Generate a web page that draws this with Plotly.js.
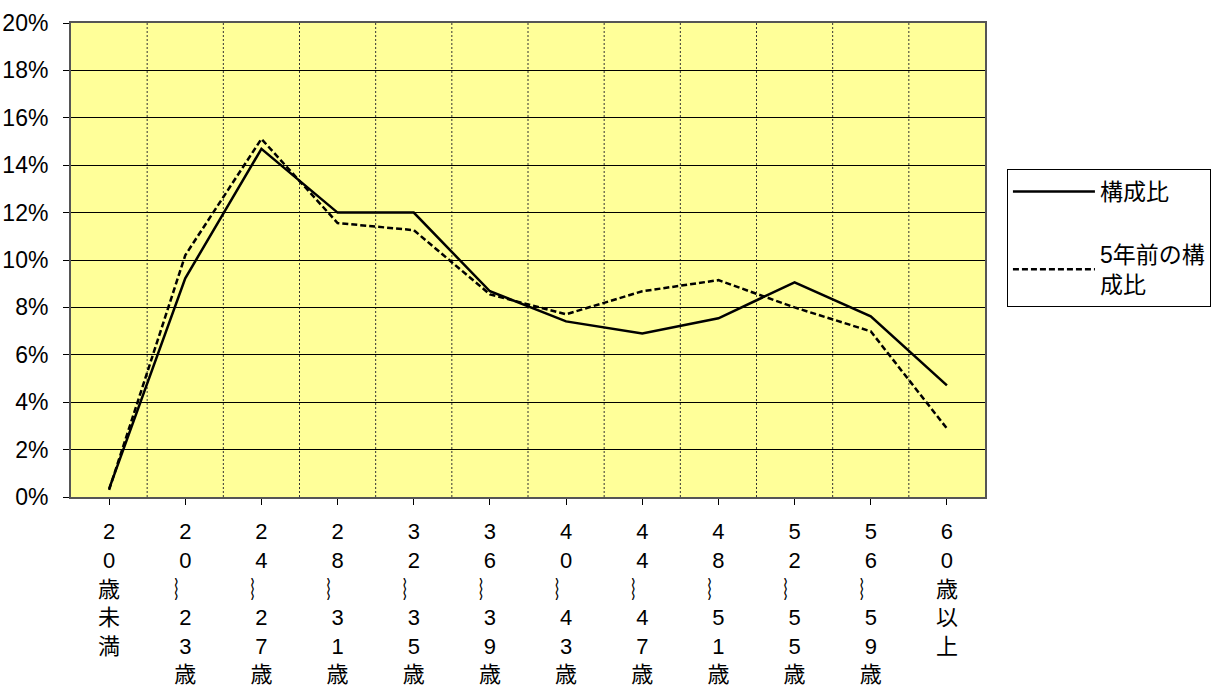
<!DOCTYPE html>
<html>
<head>
<meta charset="utf-8">
<script src="https://cdn.plot.ly/plotly-3.0.1.min.js"></script>
<style>html,body{margin:0;padding:0;background:#fff;}#chart{width:1223px;height:691px;}</style>
</head>
<body>
<div id="chart"></div>
<script>
const categories = ["20歳未満","20～23歳","24～27歳","28～31歳","32～35歳","36～39歳","40～43歳","44～47歳","48～51歳","52～55歳","56～59歳","60歳以上"];
const currentShare = [0.34, 9.23, 14.69, 12.0, 12.0, 8.68, 7.41, 6.9, 7.54, 9.06, 7.62, 4.71];
const shareFiveYearsAgo = [0.30, 10.2, 15.11, 11.56, 11.26, 8.55, 7.71, 8.68, 9.15, 8.0, 6.99, 2.89];
const seriesNames = ["構成比", "5年前の構<br>成比"];
const yTickVals = [0, 2, 4, 6, 8, 10, 12, 14, 16, 18, 20];
const yTickText = ["0%", "2%", "4%", "6%", "8%", "10%", "12%", "14%", "16%", "18%", "20%"];

const WAVE = '︴';
const tickText = categories.map(s => s.split('').map(c => c === '～' ? WAVE : c).join('<br>'));
const FONT = '"Liberation Sans Narrow", "Liberation Sans", "Noto Sans CJK JP", sans-serif';

const traces = [
  {x: categories, y: currentShare, name: seriesNames[0], type: 'scatter', mode: 'lines',
   line: {color: '#000', width: 2.5}, legendgroup: 'a'},
  {x: categories, y: shareFiveYearsAgo, name: seriesNames[1], type: 'scatter', mode: 'lines',
   line: {color: '#000', width: 2.5, dash: '6px,3px'}, legendgroup: 'b'}
];

const shapes = [];
for (let i = 0; i < categories.length - 1; i++) {
  shapes.push({type: 'line', xref: 'x', yref: 'paper', x0: i + 0.5, x1: i + 0.5, y0: 0, y1: 1,
    line: {color: '#333', width: 1, dash: '2px,2px'}, layer: 'below'});
}

const layout = {
  width: 1223, height: 691,
  margin: {l: 71, r: 234, t: 23, b: 194},
  paper_bgcolor: '#fff', plot_bgcolor: '#FFFF99',
  font: {family: FONT, size: 23, color: '#000'},
  xaxis: {
    type: 'category', tickmode: 'array', tickvals: categories, ticktext: tickText,
    range: [-0.5, 11.5], showgrid: false, zeroline: false,
    showline: true, linecolor: '#555', linewidth: 2, mirror: true,
    ticks: 'outside', ticklen: 6, tickcolor: '#000', tickwidth: 1, ticklabelstandoff: 8,
    tickfont: {family: FONT, size: 22, color: '#000'}, tickangle: 0
  },
  yaxis: {
    range: [0, 20], tickmode: 'array', tickvals: yTickVals, ticktext: yTickText,
    showgrid: true, gridcolor: '#000', gridwidth: 1, zeroline: false,
    showline: true, linecolor: '#555', linewidth: 2, mirror: true,
    ticks: 'outside', ticklen: 6, tickcolor: '#000', ticklabelstandoff: 10,
    tickfont: {family: FONT, size: 23, color: '#000'}
  },
  shapes: shapes,
  showlegend: true,
  legend: {
    x: 1.024, xanchor: 'left', y: 0.692, yanchor: 'top',
    bgcolor: '#fff', bordercolor: '#000', borderwidth: 1,
    font: {family: FONT, size: 23, color: '#000'},
    traceorder: 'grouped', tracegroupgap: 30, itemwidth: 82
  }
};

Plotly.newPlot('chart', traces, layout, {staticPlot: true, displayModeBar: false});
</script>
</body>
</html>
